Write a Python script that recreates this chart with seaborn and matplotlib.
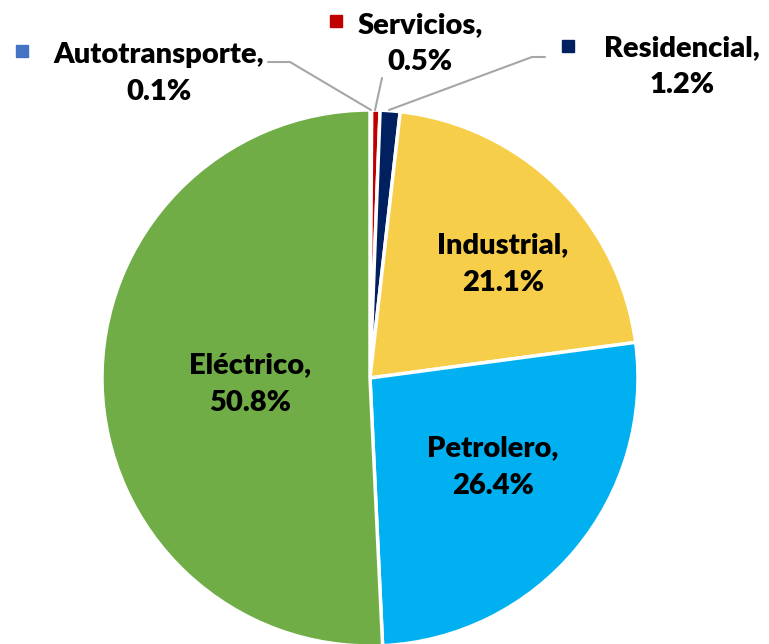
import matplotlib
matplotlib.use("Agg")
import matplotlib.pyplot as plt
import seaborn as sns

sns.set_theme(style="white")
plt.rcParams['font.family'] = ['Lato', 'DejaVu Sans']

categories = ["Autotransporte", "Servicios", "Residencial", "Industrial", "Petrolero", "Eléctrico"]
values = [0.1, 0.5, 1.2, 21.1, 26.4, 50.8]
labels = ["0.1%", "0.5%", "1.2%", "21.1%", "26.4%", "50.8%"]
colors = ["#4472C4", "#C00000", "#002060", "#F7CE4A", "#00B0F0", "#70AD47"]

W, H = 769, 644
fig = plt.figure(figsize=(W / 100, H / 100), dpi=100)
ax = fig.add_axes([0, 0, 1, 1])

cx, cy, r = 370, H - 378, 268
ax.pie(values, colors=colors, startangle=90, counterclock=False,
       center=(cx, cy), radius=r, frame=True,
       wedgeprops=dict(edgecolor="white", linewidth=2.5))
ax.set_xlim(0, W)
ax.set_ylim(0, H)
ax.set_aspect("equal")
ax.axis("off")

fs = 21
fw = "heavy"
# inside labels
inside = {3: (503, 245), 4: (493, 448), 5: (250, 365)}
for i, (x, y) in inside.items():
    ax.text(x, H - y, categories[i] + ",", ha="center", va="center", fontsize=fs, fontweight=fw, color="black")
    ax.text(x, H - y - 38, labels[i], ha="center", va="center", fontsize=fs, fontweight=fw, color="black")

# outside labels with legend keys
outside = {0: ((159, 55), (22, 51)), 1: ((420, 25), (336, 21)), 2: ((682, 48), (568, 46))}
for i, ((x, y), (kx, ky)) in outside.items():
    ax.text(x, H - y, categories[i] + ",", ha="center", va="center", fontsize=fs, fontweight=fw, color="black")
    ax.text(x, H - y - 37, labels[i], ha="center", va="center", fontsize=fs, fontweight=fw, color="black")
    ax.plot([kx], [H - ky], marker="s", markersize=9, color=colors[i], linestyle="none")

# leader lines
lc = "#A6A6A6"
ax.plot([268, 290, 371], [H - 62, H - 62, H - 110], color=lc, lw=1.5)
ax.plot([382, 375], [H - 78, H - 110], color=lc, lw=1.5)
ax.plot([545, 532, 389], [H - 57, H - 57, H - 110], color=lc, lw=1.5)

fig.savefig("out.png", dpi=100)
